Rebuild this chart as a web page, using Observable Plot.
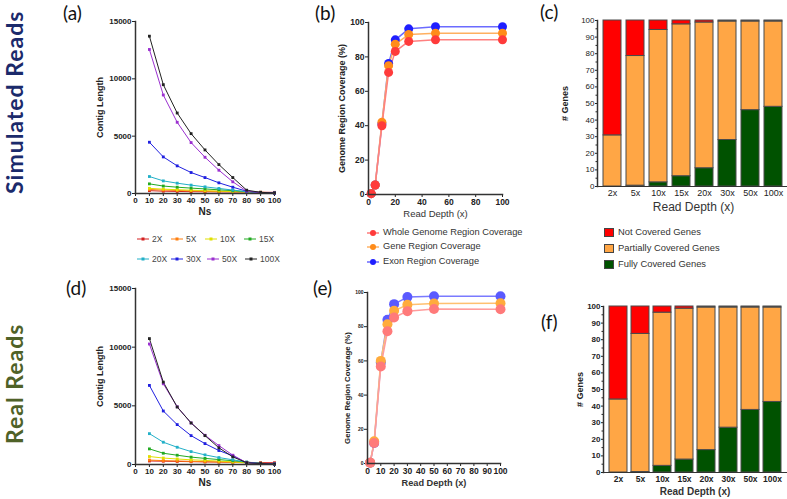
<!DOCTYPE html>
<html><head><meta charset="utf-8">
<script src="https://cdn.jsdelivr.net/npm/d3@7"></script>
<script src="https://cdn.jsdelivr.net/npm/@observablehq/plot@0.6"></script>
<style>
html,body{margin:0;padding:0;background:#fff;overflow:hidden;width:787px;height:499px;}
#root{position:relative;width:787px;height:499px;overflow:hidden;font-family:'Liberation Sans',Arial,sans-serif;}
</style>
</head><body><div id="root"></div>
<script>
// ---------- DATA ----------
const Ns = [10,20,30,40,50,60,70,80,90,100];
const nsTicks = [0,10,20,30,40,50,60,70,80,90,100];
const contigTicks = [0,5000,10000,15000];
const depthLabels = ["2X","5X","10X","15X","20X","30X","50X","100X"];
const depthColors = ["#d42020","#ff7f0e","#e0e000","#22aa22","#22b0c8","#2020e0","#9b30d0","#222222"];

// Simulated reads: contig length vs Ns
const sim2X   = [250,200,180,160,150,140,130,120,110,100];
const sim5X   = [350,300,260,230,200,180,160,130,100,70];
const sim10X  = [450,380,330,290,250,210,170,120,80,40];
const sim15X  = [840,650,550,470,400,320,250,150,100,50];
const sim20X  = [1480,1100,900,730,580,440,300,150,70,30];
const sim30X  = [4470,3190,2410,1830,1390,930,550,200,80,40];
const sim50X  = [12560,8590,6210,4440,3160,2030,1020,200,80,40];
const sim100X = [13720,9490,7020,5220,3800,2520,1390,290,100,50];

// Real reads: contig length vs Ns
const real2X   = [300,280,260,240,220,210,200,180,160,150];
const real5X   = [380,330,300,270,240,210,180,140,100,60];
const real10X  = [680,550,470,400,350,290,220,150,100,50];
const real15X  = [1330,960,790,630,520,420,320,200,100,50];
const real20X  = [2630,1900,1470,1100,820,590,400,200,100,50];
const real30X  = [6740,4560,3400,2460,1780,1190,740,150,80,40];
const real50X  = [10270,6880,4920,3540,2490,1610,790,150,80,40];
const real100X = [10730,7020,4900,3540,2460,1420,650,150,80,40];

// Genome region coverage vs read depth
const readDepth = [2,5,10,15,20,30,50,100];
const covNames = ["Whole Genome Region Coverage","Gene Region Coverage","Exon Region Coverage"];
const simWhole = [0.5,5.5,40,71,83.2,89,90,90];
const simGene  = [0.5,5.5,42,74.9,87.4,93,93.8,93.8];
const simExon  = [0.5,5.5,41,76.2,89.9,96.3,97.5,97.5];
const realWhole = [0.5,12,56.7,77.3,85.4,89.1,90.3,90.2];
const realGene  = [0.5,13,60,81.4,89.3,92.8,93.6,93.7];
const realExon  = [0.5,12,59,84,93.2,97.3,97.8,97.8];

// Genes coverage (stacked %)
const barLabels = ["2x","5x","10x","15x","20x","30x","50x","100x"];
const geneTypes = ["Fully Covered Genes","Partially Covered Genes","Not Covered Genes"];
const simFull    = [0,0.5,2.5,6.2,11,28,46,48];
const simPartial = [30.8,78.1,91.8,91.5,87.8,71.4,53.4,51.4];
const simNot     = [69.2,21.4,5.7,2.3,1.2,0.6,0.6,0.6];
const realFull    = [0,0.3,4,7.8,13.5,27,37.7,42.5];
const realPartial = [44,83.2,92.3,90.9,85.9,72.4,61.7,56.9];
const realNot     = [56,16.5,3.7,1.3,0.6,0.6,0.6,0.6];

// ---------- HELPERS ----------
const root = document.getElementById("root");
const FONT = "'Liberation Sans', Arial, Helvetica, sans-serif";
function put(el, left, top){ el.style.position="absolute"; el.style.left=left+"px"; el.style.top=top+"px"; root.appendChild(el); return el; }
function div(text, css){ const d=document.createElement("div"); d.textContent=text; d.style.cssText="position:absolute;white-space:nowrap;line-height:1;"+css; root.appendChild(d); return d; }
const baseStyle = {fontFamily: FONT, fontSize: "9px", color: "#222", background: "transparent", overflow: "visible"};

function yTitle(text, o){
  return Plot.text([text], {frameAnchor: "left", rotate: -90, dx: o.dx, dy: o.dy || 0, textAnchor: "middle", lineAnchor: "middle", fontSize: o.fs, fontWeight: "bold", fill: "#222"});
}
function xTitle(text, o){
  return Plot.text([text], {frameAnchor: "bottom", dy: o.dy, textAnchor: "middle", lineAnchor: "middle", fontSize: o.fs, fontWeight: o.fw || "bold", fill: o.fill || "#222"});
}

function contigPanel(series, o){
  const data = [];
  depthLabels.forEach((s,i)=> series[i].forEach((v,j)=> data.push({ns: Ns[j], v, s})));
  return Plot.plot({
    width: 230, height: o.height, marginLeft: 75, marginRight: 16, marginTop: o.mt, marginBottom: o.mb,
    x: {domain: [0,100]}, y: {domain: [0,15000]},
    color: {domain: depthLabels, range: depthColors},
    style: baseStyle,
    marks: [
      Plot.axisX({ticks: nsTicks, tickSize: 3, tickPadding: 1, fontSize: 8, fontWeight: "bold", label: null, fill: "#222"}),
      Plot.axisY({ticks: contigTicks, tickFormat: d3.format("d"), tickSize: 3, tickPadding: 1, fontSize: 8, fontWeight: "bold", label: null, fill: "#222"}),
      Plot.line(data, {x: "ns", y: "v", z: "s", stroke: "s", strokeWidth: 1}),
      Plot.dot(data, {x: "ns", y: "v", fill: "s", r: 1.6, symbol: "square"}),
      Plot.frame({anchor: "left", stroke: "#333", strokeWidth: 1.5}),
      Plot.frame({anchor: "bottom", stroke: "#333", strokeWidth: 1.5}),
      yTitle("Contig Length", {dx: -35, fs: 9}),
      xTitle("Ns", {dy: 18, fs: 10})
    ]
  });
}

function coveragePanel(whole, gene, exon, o){
  const data = [];
  [exon, gene, whole].forEach((arr,k)=>{
    const s = [covNames[2], covNames[1], covNames[0]][k];
    arr.forEach((v,j)=> data.push({d: readDepth[j], v, s}));
  });
  return Plot.plot({
    width: o.width, height: o.height, marginLeft: o.ml, marginRight: o.mr, marginTop: o.mt, marginBottom: o.mb,
    x: {domain: [0,100]}, y: {domain: [0,100]},
    style: baseStyle,
    marks: [
      Plot.axisX({ticks: o.xticks, tickSize: 3, tickPadding: 1, fontSize: o.xfs, fontWeight: "bold", label: null, fill: "#222"}),
      Plot.axisY({ticks: [0,20,40,60,80,100], tickSize: 3, tickPadding: 1, fontSize: o.yfs, fontWeight: "bold", label: null, fill: "#222"}),
      Plot.line(data, {x: "d", y: "v", z: "s", stroke: d => o.lineColors[d.s], strokeWidth: 1.5}),
      Plot.dot(data, {x: "d", y: "v", fill: d => o.dotColors[d.s], r: o.r}),
      Plot.frame({anchor: "left", stroke: "#333", strokeWidth: 1.5}),
      Plot.frame({anchor: "bottom", stroke: "#333", strokeWidth: 1.5}),
      yTitle("Genome Region Coverage (%)", {dx: o.ydx, dy: o.ydy, fs: o.ylfs}),
      xTitle("Read Depth (x)", {dy: o.xdy, fs: o.xlfs, fw: o.xlfw, fill: "#333"})
    ]
  });
}

const geneColors = {"Fully Covered Genes": "#005200", "Partially Covered Genes": "#ffa645", "Not Covered Genes": "#ff0000"};
function genePanel(full, partial, not, o){
  const data = [];
  [full, partial, not].forEach((arr,k)=> arr.forEach((v,j)=> data.push({x: barLabels[j], v, t: geneTypes[k]})));
  return Plot.plot({
    width: o.width, height: o.height, marginLeft: o.ml, marginRight: o.mr, marginTop: o.mt, marginBottom: o.mb,
    x: {type: "band", domain: barLabels, paddingInner: 0.2, paddingOuter: 0.17},
    y: {domain: [0,100]},
    style: baseStyle,
    marks: [
      Plot.barY(data, {x: "x", y: "v", fill: d => geneColors[d.t], z: "t", stroke: "#4a4a4a", strokeWidth: 1}),
      Plot.axisX({tickSize: 0, tickPadding: o.xpad, fontSize: o.xfs, fontWeight: o.fw, label: null, fill: "#222"}),
      Plot.axisY({ticks: d3.range(0,101,10), tickSize: 2, tickPadding: 1, fontSize: 8, fontWeight: o.fw, label: null, fill: "#222"}),
      Plot.axisY({ticks: d3.range(5,100,10), tickSize: 1.5, text: null, label: null}),
      Plot.frame({anchor: "left", stroke: "#333", strokeWidth: 1.5}),
      Plot.frame({anchor: "bottom", stroke: "#333", strokeWidth: 1}),
      yTitle("# Genes", {dx: o.ydx, fs: 9}),
      xTitle("Read Depth (x)", {dy: o.xdy, fs: o.xlfs, fw: o.fw, fill: "#333"})
    ]
  });
}

// ---------- PANELS ----------
put(contigPanel([sim2X,sim5X,sim10X,sim15X,sim20X,sim30X,sim50X,sim100X], {height: 220, mt: 21, mb: 27}), 60, 0);
put(contigPanel([real2X,real5X,real10X,real15X,real20X,real30X,real50X,real100X], {height: 249, mt: 38, mb: 35}), 60, 250);

const covDotB = {[covNames[0]]: "#ff3b3b", [covNames[1]]: "#ff8c1a", [covNames[2]]: "#1f1fff"};
const covLineB = {[covNames[0]]: "#ff8080", [covNames[1]]: "#ffb060", [covNames[2]]: "#6b6bff"};
const covDotE = {[covNames[0]]: "#ff7a7a", [covNames[1]]: "#ffab3c", [covNames[2]]: "#5a5aff"};
const covLineE = {[covNames[0]]: "#ff9c9c", [covNames[1]]: "#ffc070", [covNames[2]]: "#7a7aff"};

put(coveragePanel(simWhole, simGene, simExon, {width: 230, height: 220, ml: 78, mr: 18, mt: 22, mb: 26,
  xticks: [0,20,40,60,80,100], xfs: 8.5, yfs: 8.5, r: 4.5, ydx: -26, ydy: 0, ylfs: 9, xdy: 19, xlfs: 9.5, xlfw: "normal",
  dotColors: covDotB, lineColors: covLineB}), 290, 0);
put(coveragePanel(realWhole, realGene, realExon, {width: 220, height: 249, ml: 67, mr: 20, mt: 42, mb: 36,
  xticks: [0,10,20,30,40,50,60,70,80,90,100], xfs: 8.5, yfs: 5, r: 5, ydx: -20, ydy: 10, ylfs: 7.8, xdy: 20, xlfs: 9.2, xlfw: "bold",
  dotColors: covDotE, lineColors: covLineE}), 300, 250);

put(genePanel(simFull, simPartial, simNot, {width: 250, height: 220, ml: 57, mr: 1, mt: 20, mb: 34,
  xpad: 3, xfs: 9, fw: "normal", ydx: -32, xdy: 21, xlfs: 12}), 540, 0);
put(genePanel(realFull, realPartial, realNot, {width: 229, height: 249, ml: 43, mr: 3, mt: 56, mb: 27,
  xpad: 3.5, xfs: 8.5, fw: "bold", ydx: -23, xdy: 19, xlfs: 10}), 560, 250);

// ---------- PANEL LETTERS ----------
const letterCss = "font-family:Lato,'Open Sans',sans-serif;font-size:19px;color:#111;";
div("(a)", letterCss + "left:63px;top:3px;");
div("(b)", letterCss + "left:315px;top:3px;");
div("(c)", letterCss + "left:540px;top:2px;");
div("(d)", letterCss + "left:66px;top:278px;");
div("(e)", letterCss + "left:313px;top:278px;");
div("(f)", letterCss + "left:541px;top:312px;");

// ---------- SIDE LABELS (vertical, bottom-to-top) ----------
const sideCss = "font-family:Lato,'Open Sans',sans-serif;font-weight:bold;font-size:23px;letter-spacing:1px;writing-mode:vertical-rl;transform:rotate(180deg);width:28px;height:230px;line-height:28px;text-align:center;";
div("Simulated Reads", sideCss + "color:#1b2a6b;left:0px;top:" + (102-115) + "px;");
div("Real Reads", sideCss + "color:#4f6228;left:0px;top:" + (384-115) + "px;");

// ---------- LEGENDS ----------
const legA = [[143,239],[177,239],[211,239],[250,239],[143,259],[177,259],[213,259],[251,259]];
depthLabels.forEach((lab,i)=>{
  const [cx, cy] = legA[i];
  const ns = "http://www.w3.org/2000/svg";
  const s = document.createElementNS(ns, "svg");
  s.setAttribute("width", 14); s.setAttribute("height", 6);
  s.innerHTML = `<line x1="1" y1="3" x2="13" y2="3" stroke="${depthColors[i]}" stroke-width="1"/><rect x="5.5" y="1.5" width="3" height="3" fill="${depthColors[i]}"/>`;
  put(s, cx-7, cy-3);
  div(lab, `font-family:${FONT};font-size:8.5px;color:#444;left:${cx+9}px;top:${cy-4.5}px;`);
});

const legB = [233,247,262];
covNames.forEach((lab,i)=>{
  const ns = "http://www.w3.org/2000/svg";
  const s = document.createElementNS(ns, "svg");
  s.setAttribute("width", 14); s.setAttribute("height", 8);
  const c = covDotB[lab];
  s.innerHTML = `<line x1="1" y1="4" x2="13" y2="4" stroke="${c}" stroke-width="1"/><circle cx="7" cy="4" r="3" fill="${c}"/>`;
  put(s, 366, legB[i]-4);
  div(lab, `font-family:${FONT};font-size:9.3px;color:#333;left:383px;top:${legB[i]-5}px;`);
});

const legC = [[232,"Not Covered Genes"],[248,"Partially Covered Genes"],[264,"Fully Covered Genes"]];
legC.forEach(([y,lab])=>{
  div("", `left:604px;top:${y-4}px;width:8px;height:7px;background:${geneColors[lab]};border:1px solid #444;`);
  div(lab, `font-family:${FONT};font-size:9.4px;color:#333;left:618px;top:${y-5}px;`);
});
</script>
</body></html>
